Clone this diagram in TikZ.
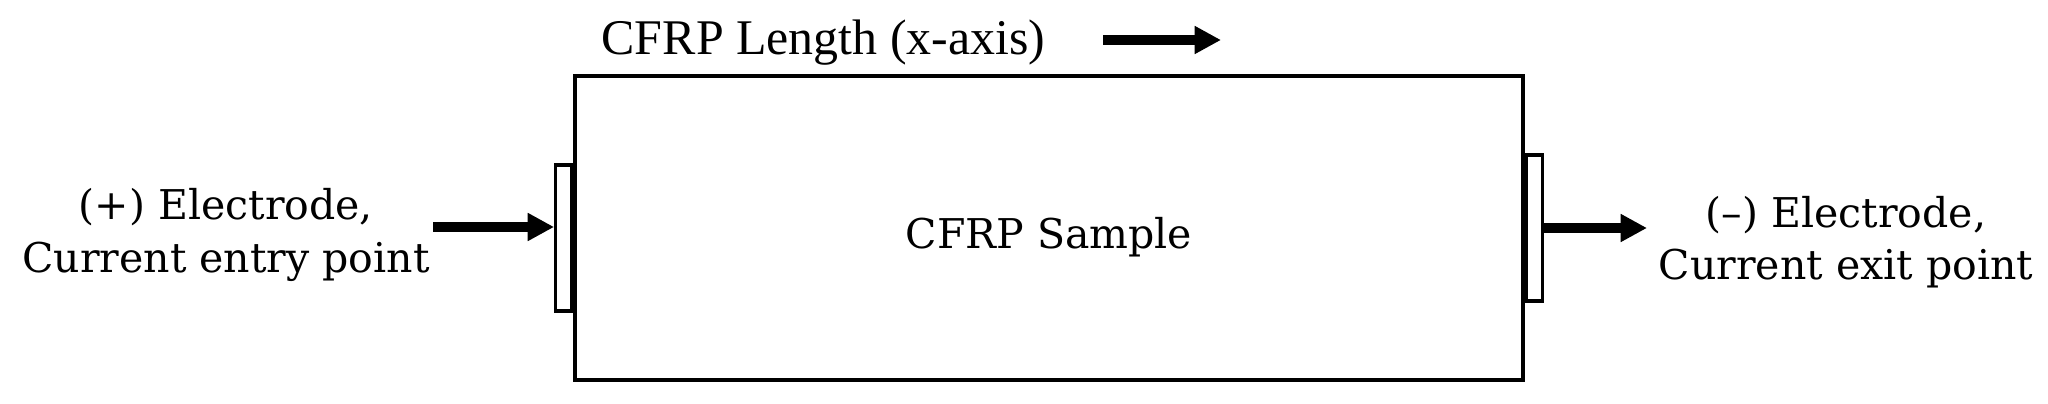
\documentclass[tikz,border=0pt]{standalone}
\usepackage{fontspec}
\setmainfont{DejaVu Serif}
\newfontfamily\lenfont{Liberation Serif}
\usetikzlibrary{arrows.meta,positioning}
\tikzstyle{every node}+=[inner sep=0pt]
\tikzstyle{txt}=[font=\fontsize{11.67}{14.9}\selectfont, align=center]
\tikzstyle{electrode}=[draw, line width=0.9pt, minimum width=1.6mm, minimum height=14.6mm]
\tikzstyle{current}=[-{Triangle[length=7.5pt,width=7.5pt]}, line width=2.6pt]

\begin{document}
\begin{tikzpicture}[x=0.1mm,y=-0.1mm]
\useasboundingbox (0,0) rectangle (2048,404);
% sample with electrodes on both ends
\node[draw, line width=1pt, minimum width=94.8mm, minimum height=30.4mm] (sample) at (1049,228) {};
\node[txt, anchor=base] (samplelabel) at (1049,248) {CFRP Sample};
\node[electrode, anchor=east] (elecL) at (sample.west |- 0,238) {};
\node[electrode, anchor=west] (elecR) at (sample.east |- 0,228) {};

% electrode labels
\node[txt] (labelL) at (226,235) {(+) Electrode,\\Current entry point};
\node[txt] (labelR) at (1846,242) {(–) Electrode,\\Current exit point};

% length direction
\node[font=\lenfont\fontsize{14.2}{17}\selectfont, anchor=base west] (lenlabel) at (601,55) {CFRP Length (x-axis)};
\coordinate (lenstart) at (1103,40);
\coordinate (lenend) at (1221,40);

% current in and out
\coordinate (inL) at (433,227);
\coordinate (outR) at (1647,228);
\draw[current] (inL) -- (elecL.west |- inL);
\draw[current] (elecR.east |- outR) -- (outR);
\draw[current] (lenstart) -- (lenend);
\end{tikzpicture}
\end{document}
